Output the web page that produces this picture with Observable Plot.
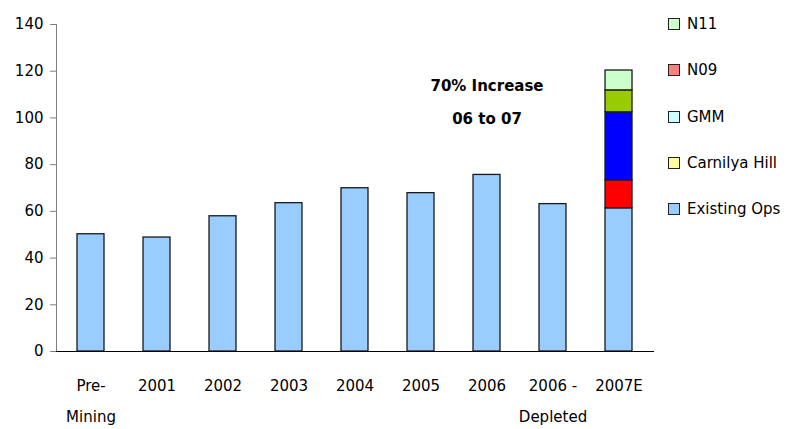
<!DOCTYPE html>
<html>
<head>
<meta charset="utf-8">
<script src="https://cdn.jsdelivr.net/npm/d3@7"></script>
<script src="https://cdn.jsdelivr.net/npm/@observablehq/plot@0.6"></script>
<style>
  html, body { margin: 0; padding: 0; background: #fff; }
  #chart { position: relative; width: 798px; height: 429px; font-family: "DejaVu Sans", sans-serif; }
  #legend { position: absolute; left: 668px; top: 0; font-size: 15px; color: #000; }
  .item { position: absolute; left: 0; height: 20px; display: flex; align-items: center; white-space: nowrap; }
  .sw { width: 10px; height: 10px; border: 1px solid #222; margin-right: 7px; flex: none; }
</style>
</head>
<body>
<div id="chart"><div id="legend"></div></div>
<script>
const categories = ["Pre-\nMining", "2001", "2002", "2003", "2004", "2005", "2006", "2006 -\nDepleted", "2007E"];
const existingOps  = [50.2, 48.8, 57.9, 63.5, 69.9, 67.8, 75.6, 63.1, 61.3];
const carnilyaHill = [0, 0, 0, 0, 0, 0, 0, 0, 12.0];
const gmm          = [0, 0, 0, 0, 0, 0, 0, 0, 29.1];
const n09          = [0, 0, 0, 0, 0, 0, 0, 0, 9.4];
const n11          = [0, 0, 0, 0, 0, 0, 0, 0, 8.5];
const seriesNames  = ["Existing Ops", "Carnilya Hill", "GMM", "N09", "N11"];
const barColors    = ["#99ccff", "#ff0000", "#0000ff", "#99cc00", "#ccffcc"];
const legendOrder  = ["N11", "N09", "GMM", "Carnilya Hill", "Existing Ops"];
const legendColors = ["#ccffcc", "#ff8080", "#ccffff", "#ffff99", "#99ccff"];
const yTicks = [0, 20, 40, 60, 80, 100, 120, 140];
const annotationLines = ["70% Increase", "06 to 07"];
const annotationY = [113.6, 99.3];
const annotationCat = "2006";

const seriesValues = [existingOps, carnilyaHill, gmm, n09, n11];
const rows = [];
seriesNames.forEach((s, si) => {
  categories.forEach((c, ci) => {
    const v = seriesValues[si][ci];
    if (v > 0) rows.push({category: c, series: s, value: v});
  });
});

const plot = Plot.plot({
  width: 798,
  height: 429,
  marginLeft: 56,
  marginRight: 144,
  marginTop: 24,
  marginBottom: 78,
  style: {fontFamily: "DejaVu Sans, sans-serif", fontSize: "15px", background: "white", color: "black"},
  x: {domain: categories, paddingInner: 0.59, paddingOuter: 0.295, axis: null},
  y: {domain: [0, 140], axis: null},
  color: {domain: seriesNames, range: barColors, legend: false},
  marks: [
    Plot.barY(rows, Plot.stackY({order: seriesNames}, {x: "category", y: "value", fill: "series", z: "series", stroke: "#1a1a1a", strokeWidth: 1.3})),
    Plot.frame({anchor: "left", stroke: "#808080"}),
    Plot.axisY({ticks: yTicks, tickSize: 6, tickPadding: 7, stroke: "#808080", fill: "black", fontSize: 15, label: null}),
    Plot.ruleY([0], {stroke: "#000", strokeWidth: 1}),
    Plot.text(categories, {x: d => d, y: () => 0, text: d => d, dy: 17, lineAnchor: "top", lineHeight: 2.07, fill: "black", fontSize: 15}),
    Plot.text(annotationLines, {x: () => annotationCat, y: (d, i) => annotationY[i], text: d => d, fontWeight: "bold", fill: "black", fontSize: 15})
  ]
});
document.getElementById("chart").prepend(plot);

const legend = document.getElementById("legend");
const legendTops = [14, 60, 107, 153, 199];
legendOrder.forEach((name, i) => {
  const item = document.createElement("div");
  item.className = "item";
  item.style.top = legendTops[i] + "px";
  const sw = document.createElement("span");
  sw.className = "sw";
  sw.style.background = legendColors[i];
  item.appendChild(sw);
  item.appendChild(document.createTextNode(name));
  legend.appendChild(item);
});
</script>
</body>
</html>
